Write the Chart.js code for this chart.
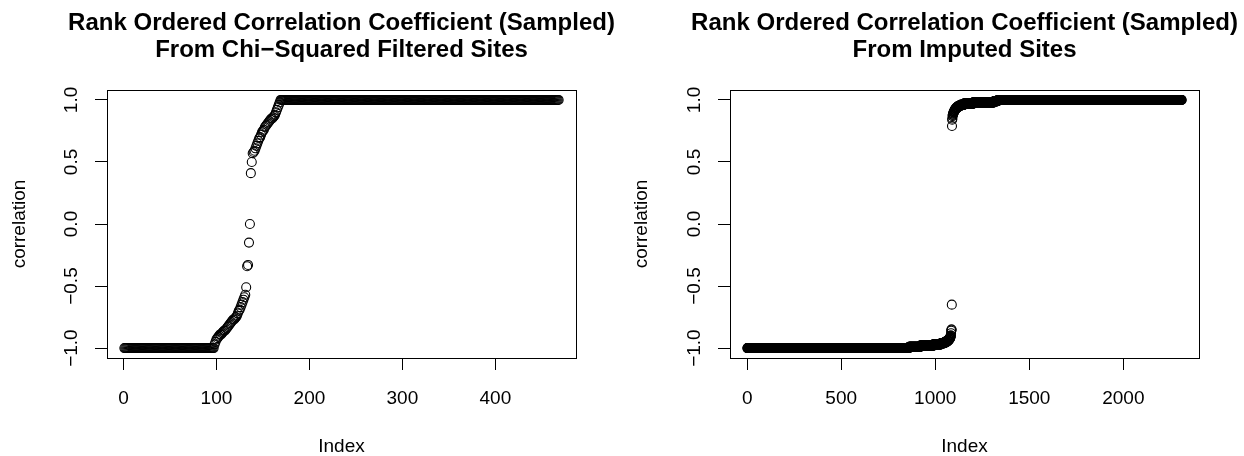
<!DOCTYPE html>
<html>
<head>
<meta charset="utf-8">
<script src="https://cdn.jsdelivr.net/npm/chart.js@4.4.0/dist/chart.umd.min.js"></script>
<style>
  body { margin: 0; background: #fff; }
  .row { display: flex; width: 1244px; height: 456px; }
  canvas { display: block; }
</style>
</head>
<body>
<div class="row">
  <canvas id="chi" width="622" height="456"></canvas>
  <canvas id="imp" width="622" height="456"></canvas>
</div>
<script>
// Sorted correlations. Long flat stretches are stored as [value, count].
const chiLowRuns = [[-1.00, 97]];
const chiMid = [
  -0.97, -0.95, -0.93, -0.92, -0.91, -0.90, -0.89, -0.89, -0.88, -0.87,
  -0.86, -0.86, -0.85, -0.84, -0.83, -0.82, -0.81, -0.80, -0.79, -0.78,
  -0.77, -0.77, -0.76, -0.75, -0.74, -0.72, -0.70, -0.69, -0.67, -0.65,
  -0.63, -0.61, -0.59, -0.57, -0.51, -0.34, -0.33, -0.15, 0.00, 0.41,
  0.50, 0.57, 0.58, 0.59, 0.61, 0.63, 0.65, 0.67, 0.69, 0.70,
  0.72, 0.74, 0.75, 0.76, 0.78, 0.79, 0.80, 0.81, 0.82, 0.83,
  0.84, 0.85, 0.85, 0.86, 0.87, 0.88, 0.90, 0.92, 0.94, 0.96,
  0.98
];
const chiHighRuns = [[1.00, 300]];

const impLowRuns = [
  [-1.00, 860], [-0.99, 60], [-0.98, 70], [-0.97, 40], [-0.96, 20],
  [-0.95, 12], [-0.94, 8], [-0.93, 5], [-0.92, 4], [-0.91, 2],
  [-0.90, 2], [-0.88, 1], [-0.86, 1], [-0.85, 2], [-0.65, 1]
];
const impHighRuns = [
  [0.79, 1], [0.84, 1], [0.85, 1], [0.87, 1], [0.88, 2], [0.89, 2],
  [0.90, 3], [0.91, 3], [0.92, 4], [0.93, 6], [0.94, 8], [0.95, 12],
  [0.96, 20], [0.97, 50], [0.98, 110], [0.99, 20], [1.00, 978]
];

const chiXTicks = [0, 100, 200, 300, 400];
const impXTicks = [0, 500, 1000, 1500, 2000];
const yTicks = [-1, -0.5, 0, 0.5, 1];

const chiTitle = ["Rank Ordered Correlation Coefficient (Sampled)", "From Chi\u2212Squared Filtered Sites"];
const impTitle = ["Rank Ordered Correlation Coefficient (Sampled)", "From Imputed Sites"];

const FONT = '"Liberation Sans", Arial, Helvetica, sans-serif';

function expand(runs) {
  const out = [];
  runs.forEach(([v, n]) => { for (let i = 0; i < n; i++) out.push(v); });
  return out;
}

// closed frame around the plot region
const frame = {
  id: 'frame',
  afterDraw(chart) {
    const {ctx, chartArea: a} = chart;
    ctx.save();
    ctx.strokeStyle = '#000';
    ctx.lineWidth = 1;
    ctx.strokeRect(a.left + 0.5, a.top + 0.5, a.right - a.left, a.bottom - a.top);
    ctx.restore();
  }
};

// two-line bold heading, centred over the plot region (not the whole canvas)
const mainTitle = {
  id: 'mainTitle',
  afterDraw(chart, args, opts) {
    const {ctx, chartArea: a} = chart;
    ctx.save();
    ctx.font = 'bold 24px ' + FONT;
    ctx.fillStyle = '#000';
    ctx.textAlign = 'center';
    ctx.textBaseline = 'middle';
    const cx = (a.left + a.right) / 2;
    opts.lines.forEach((t, i) => ctx.fillText(t, cx, 23 + i * 27.5));
    ctx.restore();
  }
};

function minus(s) { return String(s).replace('-', '\u2212'); }

function makePlot(id, values, xTicks, title, leftW, rightPad) {
  const n = values.length;
  const pad = 0.04 * (n - 1);
  const points = values.map((v, i) => ({x: i + 1, y: v}));

  return new Chart(document.getElementById(id), {
    type: 'scatter',
    data: {
      datasets: [{
        data: points,
        pointStyle: 'circle',
        pointRadius: 4.5,
        pointBorderWidth: 1.1,
        pointBorderColor: '#000',
        pointBackgroundColor: 'rgba(0,0,0,0)',
        showLine: false
      }]
    },
    options: {
      responsive: false,
      animation: false,
      devicePixelRatio: 1,
      layout: { padding: { top: 90, left: 0, right: rightPad, bottom: 0 } },
      plugins: {
        legend: { display: false },
        tooltip: { enabled: false },
        title: { display: false },
        mainTitle: { lines: title }
      },
      scales: {
        x: {
          type: 'linear',
          min: 1 - pad,
          max: n + pad,
          afterBuildTicks: s => { s.ticks = xTicks.map(v => ({value: v})); },
          afterFit: s => { s.height = 98; },
          grid: { drawOnChartArea: false, drawTicks: true, tickLength: 12, tickColor: '#000' },
          border: { display: true, color: '#000' },
          ticks: { autoSkip: false, color: '#000', padding: 17, maxRotation: 0,
                   callback: v => String(v),
                   font: { family: FONT, size: 19 } },
          title: { display: true, text: 'Index', color: '#000', padding: { top: 0, bottom: 0 },
                   font: { family: FONT, size: 19, lineHeight: 1 } }
        },
        y: {
          type: 'linear',
          min: -1.08,
          max: 1.08,
          afterBuildTicks: s => { s.ticks = yTicks.map(v => ({value: v})); },
          afterFit: s => { s.width = leftW; },
          grid: { drawOnChartArea: false, drawTicks: true, tickLength: 12, tickColor: '#000' },
          border: { display: true, color: '#000' },
          ticks: { autoSkip: false, color: '#000', padding: 4, minRotation: 90, maxRotation: 90,
                   crossAlign: 'center',
                   callback: v => minus(v.toFixed(1)),
                   font: { family: FONT, size: 19 } },
          title: { display: true, text: 'correlation', color: '#000', padding: { top: 8, bottom: 0 },
                   font: { family: FONT, size: 19 } }
        }
      }
    },
    plugins: [frame, mainTitle]
  });
}

const chiValues = expand(chiLowRuns).concat(chiMid, expand(chiHighRuns));
const impValues = expand(impLowRuns).concat(expand(impHighRuns));

makePlot('chi', chiValues, chiXTicks, chiTitle, 107, 46);
makePlot('imp', impValues, impXTicks, impTitle, 108, 45);
</script>
</body>
</html>
